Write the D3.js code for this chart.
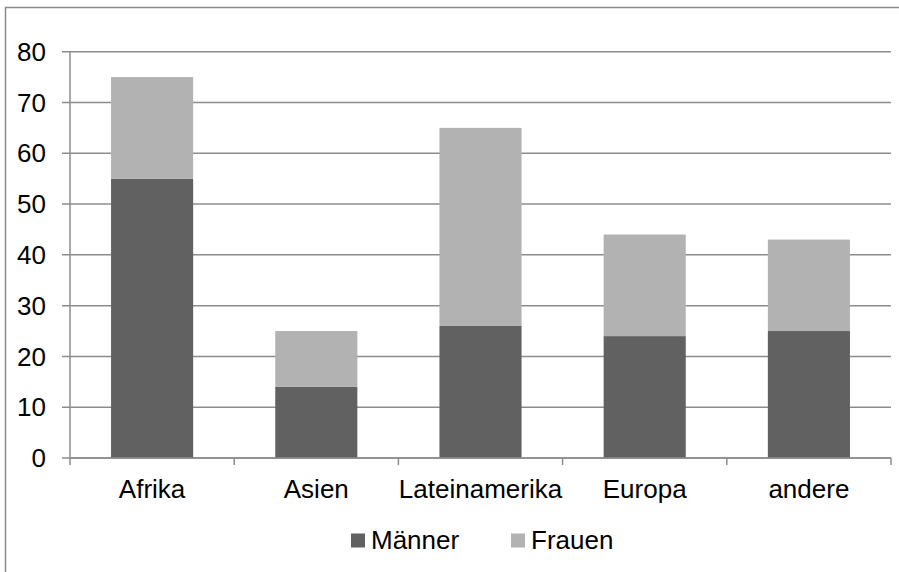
<!DOCTYPE html>
<html>
<head>
<meta charset="utf-8">
<script src="https://cdn.jsdelivr.net/npm/d3@7"></script>
<style>
  body { margin: 0; background: #fff; }
  svg { display: block; font-family: "Liberation Sans", Arial, sans-serif; }
</style>
</head>
<body>
<div id="chart"></div>
<script>
// Chart data
const regions = ["Afrika", "Asien", "Lateinamerika", "Europa", "andere"];
const maenner = [55, 14, 26, 24, 25];
const frauen = [20, 11, 39, 20, 18];
const seriesNames = ["Männer", "Frauen"];
const yTicks = [0, 10, 20, 30, 40, 50, 60, 70, 80];

const width = 899, height = 572;
const colors = {"Männer": "#616161", "Frauen": "#b2b2b2"};
const gridColor = "#8c8c8c";
const fontSize = "26px";

// Plot area
const plotLeft = 70, plotRight = 891, plotTop = 51.7, plotBottom = 458;

const svg = d3.select("#chart").append("svg")
    .attr("width", width)
    .attr("height", height);

// Outer chart frame (cut off on the right and at the bottom)
svg.append("rect")
    .attr("x", 5.5).attr("y", 7.5)
    .attr("width", 1000).attr("height", 1000)
    .attr("fill", "none")
    .attr("stroke", "#8a8a8a")
    .attr("stroke-width", 1.5);

const x = d3.scaleBand()
    .domain(regions)
    .range([plotLeft, plotRight])
    .paddingInner(0.5)
    .paddingOuter(0.25);

const y = d3.scaleLinear()
    .domain([0, 80])
    .range([plotBottom, plotTop]);

// Horizontal gridlines
svg.append("g").selectAll("line")
    .data(yTicks)
    .enter().append("line")
    .attr("x1", plotLeft - 8).attr("x2", plotRight)
    .attr("y1", d => y(d)).attr("y2", d => y(d))
    .attr("stroke", gridColor)
    .attr("stroke-width", 1.5);

// Y axis labels
svg.append("g").selectAll("text")
    .data(yTicks)
    .enter().append("text")
    .attr("x", 46)
    .attr("y", d => y(d))
    .attr("dy", "0.35em")
    .attr("text-anchor", "end")
    .attr("font-size", fontSize)
    .attr("fill", "#000")
    .text(d => d);

// Stacked data
const rows = regions.map((r, i) => ({region: r, "Männer": maenner[i], "Frauen": frauen[i]}));
const stacked = d3.stack().keys(seriesNames)(rows);

svg.append("g").selectAll("g")
    .data(stacked)
    .enter().append("g")
    .attr("fill", d => colors[d.key])
    .selectAll("rect")
    .data(d => d)
    .enter().append("rect")
    .attr("x", d => x(d.data.region))
    .attr("width", x.bandwidth())
    .attr("y", d => y(d[1]))
    .attr("height", d => y(d[0]) - y(d[1]));

// Y axis line
svg.append("line")
    .attr("x1", plotLeft).attr("x2", plotLeft)
    .attr("y1", plotTop).attr("y2", plotBottom)
    .attr("stroke", gridColor).attr("stroke-width", 1.5);

// Category boundary ticks on x axis
const step = (plotRight - plotLeft) / regions.length;
svg.append("g").selectAll("line")
    .data(d3.range(regions.length + 1))
    .enter().append("line")
    .attr("x1", i => plotLeft + i * step).attr("x2", i => plotLeft + i * step)
    .attr("y1", plotBottom).attr("y2", plotBottom + 7)
    .attr("stroke", gridColor).attr("stroke-width", 1.5);

// X axis line drawn over bar bottoms
svg.append("line")
    .attr("x1", plotLeft).attr("x2", plotRight)
    .attr("y1", plotBottom).attr("y2", plotBottom)
    .attr("stroke", gridColor).attr("stroke-width", 1.5);

// X labels
svg.append("g").selectAll("text")
    .data(regions)
    .enter().append("text")
    .attr("x", d => x(d) + x.bandwidth() / 2)
    .attr("y", 498)
    .attr("text-anchor", "middle")
    .attr("font-size", fontSize)
    .attr("fill", "#000")
    .text(d => d);

// Legend
const legendPos = [{sx: 351, tx: 371}, {sx: 511, tx: 531}];
const legend = svg.append("g").selectAll("g")
    .data(seriesNames)
    .enter().append("g");
legend.append("rect")
    .attr("x", (d, i) => legendPos[i].sx)
    .attr("y", 533.5)
    .attr("width", 14).attr("height", 14)
    .attr("fill", d => colors[d]);
legend.append("text")
    .attr("x", (d, i) => legendPos[i].tx)
    .attr("y", 549)
    .attr("font-size", fontSize)
    .attr("fill", "#000")
    .text(d => d);
</script>
</body>
</html>
